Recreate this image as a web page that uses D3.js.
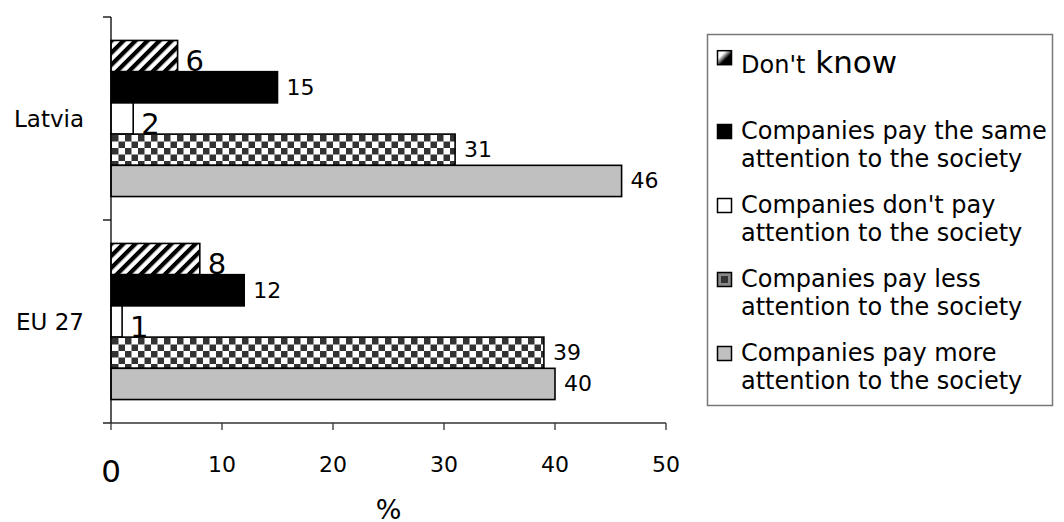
<!DOCTYPE html>
<html>
<head>
<meta charset="utf-8">
<script src="https://cdn.jsdelivr.net/npm/d3@7/dist/d3.min.js"></script>
<style>
  html, body { margin: 0; padding: 0; background: #fff; }
  svg { display: block; font-family: "DejaVu Sans", Verdana, sans-serif; }
</style>
</head>
<body>
<svg id="chart" width="1064" height="522"></svg>
<script>
// ---------- data ----------
const categories = ["Latvia", "EU 27"];
const seriesNames = [
  "Don't know",
  "Companies pay the same attention to the society",
  "Companies don't pay attention to the society",
  "Companies pay less attention to the society",
  "Companies pay more attention to the society"
];
const latviaValues = [6, 15, 2, 31, 46];
const eu27Values = [8, 12, 1, 39, 40];
const xTickValues = [0, 10, 20, 30, 40, 50];
const legendLines = [
  ["Don't", "know"],
  ["Companies pay the same", "attention to the society"],
  ["Companies don't pay", "attention to the society"],
  ["Companies pay less", "attention to the society"],
  ["Companies pay more", "attention to the society"]
];
const axisTitle = "%";

// ---------- styles ----------
const bigLabelSeries = [0, 2];
const seriesFills = ["url(#stripes)", "#000000", "#ffffff", "url(#checker)", "#c0c0c0"];

const svg = d3.select("#chart");
const defs = svg.append("defs");

// diagonal stripe pattern
const sp = 8.5;
const stripes = defs.append("pattern")
  .attr("id", "stripes").attr("patternUnits", "userSpaceOnUse")
  .attr("width", sp).attr("height", sp)
  .attr("patternTransform", "rotate(45)");
stripes.append("rect").attr("width", sp).attr("height", sp).attr("fill", "#fff");
stripes.append("rect").attr("width", 4.2).attr("height", sp).attr("fill", "#000");

// checker pattern
const cp = 13;
const checker = defs.append("pattern")
  .attr("id", "checker").attr("patternUnits", "userSpaceOnUse")
  .attr("width", cp).attr("height", cp).attr("x", 112).attr("y", 1);
checker.append("rect").attr("width", cp).attr("height", cp).attr("fill", "#fff");
checker.append("rect").attr("x", 0).attr("y", 0).attr("width", cp / 2).attr("height", cp / 2).attr("fill", "#333");
checker.append("rect").attr("x", cp / 2).attr("y", cp / 2).attr("width", cp / 2).attr("height", cp / 2).attr("fill", "#333");

// legend gradient for "Don't know" marker
const grad = defs.append("linearGradient").attr("id", "dkgrad")
  .attr("x1", "0").attr("y1", "0").attr("x2", "1").attr("y2", "1");
grad.append("stop").attr("offset", "0%").attr("stop-color", "#fff");
grad.append("stop").attr("offset", "30%").attr("stop-color", "#fff");
grad.append("stop").attr("offset", "60%").attr("stop-color", "#000");
grad.append("stop").attr("offset", "100%").attr("stop-color", "#000");

// ---------- scales ----------
const plot = { left: 111, right: 666, top: 17, bottom: 423 };
const x = d3.scaleLinear().domain([0, 50]).range([plot.left, plot.right]);
const y0 = d3.scaleBand().domain(categories).range([plot.top, plot.bottom]).padding(0);
const bw = y0.bandwidth();
const gap = bw * 0.1155;
const y1 = d3.scaleBand().domain(d3.range(seriesNames.length)).range([gap, bw - gap]).padding(0);

const valuesByCat = { "Latvia": latviaValues, "EU 27": eu27Values };

// ---------- bars ----------
const groups = svg.append("g").selectAll("g.cat")
  .data(categories).join("g")
  .attr("class", "cat")
  .attr("transform", d => `translate(0,${y0(d)})`);

groups.selectAll("rect.bar")
  .data(c => valuesByCat[c].map((v, i) => ({ v, i })))
  .join("rect")
  .attr("class", "bar")
  .attr("x", x(0))
  .attr("y", d => y1(d.i))
  .attr("width", d => x(d.v) - x(0))
  .attr("height", y1.bandwidth())
  .attr("fill", d => seriesFills[d.i])
  .attr("stroke", "#000")
  .attr("stroke-width", 1.6);

// labels
groups.selectAll("text.lab")
  .data(c => valuesByCat[c].map((v, i) => ({ v, i })))
  .join("text")
  .attr("class", "lab")
  .attr("x", d => x(d.v) + (bigLabelSeries.includes(d.i) ? 8 : 9))
  .attr("y", d => y1(d.i) + y1.bandwidth() / 2 + (bigLabelSeries.includes(d.i) ? 5 : 0))
  .attr("dominant-baseline", "central")
  .attr("font-size", d => bigLabelSeries.includes(d.i) ? 29 : 22)
  .attr("fill", "#000")
  .text(d => d.v);

// ---------- axes ----------
const axisColor = "#333";
// y axis
const yAxis = svg.append("g");
yAxis.append("line")
  .attr("x1", plot.left).attr("x2", plot.left)
  .attr("y1", plot.top).attr("y2", plot.bottom)
  .attr("stroke", "#000").attr("stroke-width", 1.3);
const yTickPositions = [plot.top, ...categories.map(c => y0(c) + bw)];
yAxis.selectAll("line.yt").data(yTickPositions).join("line")
  .attr("class", "yt")
  .attr("x1", plot.left - 8).attr("x2", plot.left)
  .attr("y1", d => d).attr("y2", d => d)
  .attr("stroke", "#000").attr("stroke-width", 1.3);
yAxis.selectAll("text.cl").data(categories).join("text")
  .attr("class", "cl")
  .attr("x", 84)
  .attr("y", d => y0(d) + bw / 2)
  .attr("text-anchor", "end")
  .attr("dominant-baseline", "central")
  .attr("font-size", 23)
  .text(d => d);

// x axis
const xAxis = svg.append("g");
xAxis.append("line")
  .attr("x1", plot.left).attr("x2", plot.right)
  .attr("y1", plot.bottom).attr("y2", plot.bottom)
  .attr("stroke", axisColor).attr("stroke-width", 1.3);
xAxis.selectAll("line.xt").data(xTickValues).join("line")
  .attr("class", "xt")
  .attr("x1", d => x(d)).attr("x2", d => x(d))
  .attr("y1", plot.bottom).attr("y2", plot.bottom + 7)
  .attr("stroke", axisColor).attr("stroke-width", 1.3);
xAxis.selectAll("text.xl").data(xTickValues).join("text")
  .attr("class", "xl")
  .attr("x", d => x(d))
  .attr("y", d => d === 0 ? 482 : 472)
  .attr("text-anchor", "middle")
  .attr("font-size", d => d === 0 ? 31 : 22)
  .text(d => d);
svg.append("text")
  .attr("x", (plot.left + plot.right) / 2)
  .attr("y", 519)
  .attr("text-anchor", "middle")
  .attr("font-size", 27)
  .text(axisTitle);

// ---------- legend ----------
const legend = svg.append("g");
legend.append("rect")
  .attr("x", 707.5).attr("y", 34.5).attr("width", 345).attr("height", 371)
  .attr("fill", "#fff").attr("stroke", "#777").attr("stroke-width", 1.5);

const legendFirstBaselines = [72.7, 139, 213, 287, 361];
const lineGap = 28;
const markerFills = ["url(#dkgrad)", "#000", "#fff", "#333", "#c0c0c0"];

legendLines.forEach((lines, i) => {
  const b = legendFirstBaselines[i];
  const my = i === 0 ? b - 22 : b - 14.5;
  if (i === 3) {
    legend.append("rect").attr("x", 717.5).attr("y", my).attr("width", 14).attr("height", 14)
      .attr("fill", "#888").attr("stroke", "#000").attr("stroke-width", 1.5);
    legend.append("rect").attr("x", 721).attr("y", my + 3.5).attr("width", 7).attr("height", 7)
      .attr("fill", markerFills[i]);
  } else {
    legend.append("rect").attr("x", 717.5).attr("y", my).attr("width", 14).attr("height", 14)
      .attr("fill", markerFills[i]).attr("stroke", "#000").attr("stroke-width", 1.5);
  }
  if (i === 0) {
    const t = legend.append("text").attr("x", 741).attr("y", b).attr("font-size", 24);
    t.append("tspan").text(lines[0]);
    t.append("tspan").attr("font-size", 31).text(" " + lines[1]);
  } else {
    lines.forEach((ln, k) => {
      legend.append("text").attr("x", 741).attr("y", b + k * lineGap)
        .attr("font-size", 24).text(ln);
    });
  }
});
</script>
</body>
</html>
